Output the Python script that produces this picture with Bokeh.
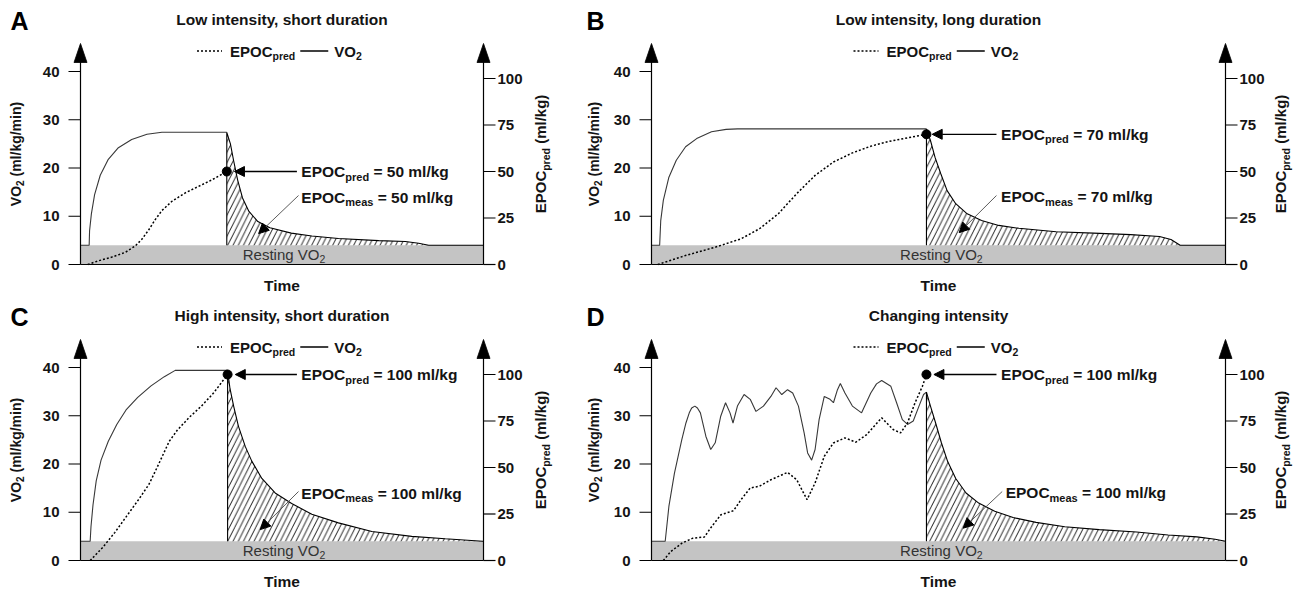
import math
from bokeh.plotting import figure
from bokeh.models import Range1d, Label, Arrow, NormalHead, BoxAnnotation
from bokeh.core.properties import value
from bokeh.layouts import row, column
from bokeh.embed import file_html
from bokeh.resources import INLINE

# ---------------------------------------------------------------- data
RESTING_VO2 = 4.0
T_START, T_END = 0, 100          # time axis domain (arbitrary units)
VO2_TICKS = [0, 10, 20, 30, 40]
EPOC_TICKS = [0, 25, 50, 75, 100]
LETTERS = ["A", "B", "C", "D"]
TITLES = ["Low intensity, short duration", "Low intensity, long duration",
          "High intensity, short duration", "Changing intensity"]
EPOC_PRED_VALUES = [50, 70, 100, 100]
EPOC_MEAS_VALUES = [50, 70, 100, 100]

# Panel A
a_vo2_t = [0, 2.15, 2.25, 2.7, 3.5, 4.9, 6.9, 9.4, 12.7, 16.5, 20.2, 36.3]
a_vo2_v = [4.0, 4.0, 7.0, 10.5, 14.5, 18.5, 21.8, 24.2, 25.9, 27.0, 27.4, 27.4]
a_dec_t = [36.3, 37.2, 38.0, 39.0, 40.2, 41.8, 44.0, 47.0, 52.3, 57.4, 64.0, 74.0, 80.6, 83.9, 86.4]
a_dec_v = [27.4, 25.0, 21.5, 17.5, 13.8, 11.0, 8.9, 7.6, 6.5, 5.9, 5.4, 4.95, 4.76, 4.4, 4.0]
a_epoc_t = [1.8, 4.5, 7.8, 11.1, 13.6, 15.2, 16.9, 18.5, 20.2, 22.7, 26.0, 29.3, 32.6, 36.3]
a_epoc_r = [0, 2, 4, 6.5, 10, 13.5, 18.5, 24, 29, 34, 38.5, 42, 45.5, 50]

# Panel B
b_vo2_t = [0, 1.42, 1.61, 2.06, 3.03, 4.32, 5.94, 7.87, 10.45, 13.0, 15.0, 47.9]
b_vo2_v = [4.0, 4.0, 9.1, 13.3, 18.1, 21.6, 24.4, 26.1, 27.5, 28.0, 28.1, 28.1]
b_dec_t = [47.9, 48.6, 49.4, 50.4, 51.5, 53.0, 55.0, 57.5, 60.5, 64.0, 70.5, 77.0, 83.5, 88.5, 90.5, 92.1]
b_dec_v = [28.1, 25.7, 22.2, 18.8, 15.3, 12.6, 10.5, 9.1, 8.1, 7.5, 6.8, 6.5, 6.2, 5.8, 5.2, 4.0]
b_epoc_t = [1.1, 5.9, 11.1, 15.6, 18.8, 22.1, 25.3, 28.5, 31.7, 35.0, 38.2, 41.4, 44.6, 47.9]
b_epoc_r = [0, 4.8, 9.3, 13.8, 19.2, 27.3, 38.1, 47.9, 55.1, 60.0, 63.6, 66.2, 68.1, 70]

# Panel C
c_vo2_t = [0, 2.4, 2.6, 3.1, 3.9, 5.1, 6.9, 9.0, 11.3, 14.2, 17.5, 20.8, 23.5, 36.5]
c_vo2_v = [4.0, 4.0, 7.0, 11.5, 16.5, 20.8, 24.7, 28.2, 31.2, 33.8, 36.2, 38.1, 39.4, 39.4]
c_dec_t = [36.5, 37.1, 38.0, 39.2, 40.9, 42.5, 45.0, 48.3, 52.4, 57.4, 64.0, 72.3, 82.2, 90.5, 99.8]
c_dec_v = [39.4, 35.6, 32.0, 27.8, 23.6, 20.6, 17.0, 14.0, 11.8, 9.6, 7.8, 6.0, 5.0, 4.5, 4.0]
c_epoc_t = [2.4, 5.5, 8.5, 11.5, 14.5, 17.0, 19.0, 20.5, 22.0, 24.0, 27.0, 30.0, 33.0, 36.5]
c_epoc_r = [0, 7, 15, 24, 33, 41, 50, 57, 64, 70, 77, 83, 90, 100]

# Panel D
d_vo2_t = [0, 2.39, 3.03, 4.0, 5.29, 6.0, 6.58, 7.0, 7.55, 8.0, 8.52, 9.48, 10.32, 11.1, 12.06,
           12.9, 13.68, 14.2, 14.97, 16.13, 17.2, 18.2, 19.5, 20.8, 21.7, 22.7, 23.7, 24.6,
           25.6, 26.6, 27.2, 27.9, 28.5, 29.2, 30.1, 31.1, 31.7, 32.4, 32.9, 33.7, 35.0,
           36.6, 38.2, 39.2, 40.1, 41.7, 42.7, 43.7, 44.6, 45.6, 46.6, 47.4, 47.9]
d_vo2_v = [4.0, 4.0, 11.2, 18.1, 25.1, 28.5, 30.6, 31.6, 32.0, 31.6, 30.6, 25.7, 23.0, 24.4, 29.9,
           32.7, 30.6, 28.5, 32.0, 34.4, 33.4, 30.9, 32.0, 34.0, 35.8, 34.4, 35.4, 34.7,
           32.0, 26.4, 22.3, 20.8, 23.0, 29.2, 34.0, 33.4, 32.7, 35.4, 36.7, 34.7, 32.0,
           30.6, 34.7, 36.6, 37.3, 36.1, 32.7, 29.2, 28.2, 28.9, 32.0, 34.4, 34.9]
d_dec_t = [47.9, 48.6, 49.5, 50.5, 51.6, 53.0, 54.8, 57.0, 59.8, 63.0, 67.0, 72.0, 78.0, 84.5, 90.0, 95.0, 98.2, 100]
d_dec_v = [34.9, 32.0, 28.5, 24.4, 20.5, 17.0, 14.0, 11.9, 10.2, 8.9, 7.9, 7.0, 6.4, 5.9, 5.3, 4.9, 4.4, 4.0]
d_epoc_t = [2.06, 3.35, 5.3, 7.2, 9.2, 10.5, 12.1, 14.3, 15.6, 17.2, 18.8, 20.8, 23.7, 25.3,
            27.1, 28.5, 30.1, 31.7, 33.7, 35.6, 37.5, 40.1, 42.1, 43.4, 44.6, 45.9, 47.2, 47.9]
d_epoc_r = [0, 4.8, 9.3, 12.0, 12.6, 18.3, 24.6, 26.8, 32.7, 39.0, 39.9, 43.4, 47.4, 43.4,
            32.7, 41.7, 56.0, 63.2, 65.9, 63.6, 67.7, 76.7, 70.4, 68.6, 74.0, 84.7, 93.7, 100]

# ---------------------------------------------------------------- layout / style
FONT = "'Liberation Sans', Arial, Helvetica, sans-serif"
TXT = "#141414"
FIG_H = 296
AXIS_BOTTOM_PX = 264   # pixel row of the zero line inside each panel
ARROW_TIP_PX = 43      # pixel row of the axis arrow tips
ARROW_LEN_PX = 19      # axis arrowhead length
ARROW_HALF_W_PX = 6.5  # axis arrowhead half width
PX_PER_V = 4.825       # pixels per VO2 unit
PX_PER_R = 1.86        # pixels per EPOC unit
TICK_LEN = 12

BOLD_W = {'E': 667, 'P': 667, 'O': 778, 'C': 722, 'V': 667, 'p': 611, 'r': 389, 'e': 556,
          'd': 611, 'm': 889, 'a': 556, 's': 556, ' ': 278, '=': 584, 'l': 278, '/': 278,
          'k': 556, 'g': 611, '(': 333, ')': 333, 'i': 278, 'n': 611}
REG_W = {'R': 722, 'e': 556, 's': 500, 't': 278, 'i': 222, 'n': 556, 'g': 556, ' ': 278,
         'V': 667, 'O': 778}


def tw(s, size, bold=True):
    table = BOLD_W if bold else REG_W
    return sum(table.get(c, 556) for c in s) * size / 1000.0


def text_run(p, x, y, start_px, pieces, y_range_name="default", vertical=False, base_px=0,
             bold=True, color=TXT):
    off = start_px
    for txt, size, dy in pieces:
        stripped = txt.lstrip(" ")
        off += tw(txt[:len(txt) - len(stripped)], size, bold)
        kw = dict(x=x, y=y, text=stripped, text_font=FONT, text_font_size=f"{size}px",
                  text_font_style="bold" if bold else "normal", text_color=color,
                  text_align="left", text_baseline="middle", y_range_name=y_range_name)
        if vertical:
            lab = Label(angle=math.pi / 2, x_offset=base_px - dy, y_offset=off, **kw)
        else:
            lab = Label(x_offset=off, y_offset=base_px + dy, **kw)
        p.add_layout(lab)
        off += tw(stripped, size, bold)
    return off


PANELS = [
    dict(data=(a_vo2_t, a_vo2_v, a_dec_t, a_dec_v, a_epoc_t, a_epoc_r), width=576,
         axis_left=80, plot_w=403, letter_dx=-61, llabel_dx=-65, rlabel_dx=57,
         pred_tip=38.2, pred_tail=53.7, pred_text=54.8, meas_text=54.8, meas_v=13.9,
         meas_from=(54.1, 14.3), meas_to=(44.2, 6.4)),
    dict(data=(b_vo2_t, b_vo2_v, b_dec_t, b_dec_v, b_epoc_t, b_epoc_r), width=720,
         axis_left=75, plot_w=574, letter_dx=-56, llabel_dx=-58, rlabel_dx=55,
         pred_tip=48.9, pred_tail=60.1, pred_text=60.9, meas_text=60.9, meas_v=14.0,
         meas_from=(60.1, 14.3), meas_to=(53.6, 6.6)),
    dict(data=(c_vo2_t, c_vo2_v, c_dec_t, c_dec_v, c_epoc_t, c_epoc_r), width=576,
         axis_left=80, plot_w=403, letter_dx=-61, llabel_dx=-65, rlabel_dx=57,
         pred_tip=38.4, pred_tail=53.7, pred_text=54.8, meas_text=54.8, meas_v=13.9,
         meas_from=(54.1, 14.3), meas_to=(44.6, 6.4)),
    dict(data=(d_vo2_t, d_vo2_v, d_dec_t, d_dec_v, d_epoc_t, d_epoc_r), width=720,
         axis_left=75, plot_w=574, letter_dx=-56, llabel_dx=-58, rlabel_dx=55,
         pred_tip=49.2, pred_tail=60.1, pred_text=60.9, meas_text=61.7, meas_v=14.0,
         meas_from=(61.1, 14.3), meas_to=(54.3, 6.7)),
]


def build(i, cfg):
    vo2_t, vo2_v, dec_t, dec_v, ep_t, ep_r = cfg["data"]
    W = cfg["width"]
    xpx = cfg["plot_w"] / float(T_END - T_START)
    x_lo = T_START - cfg["axis_left"] / xpx
    x_hi = T_START + (W - cfg["axis_left"]) / xpx
    below = FIG_H - AXIS_BOTTOM_PX
    p = figure(width=W, height=FIG_H, output_backend="svg", toolbar_location=None,
               x_range=Range1d(x_lo, x_hi),
               y_range=Range1d(-below / PX_PER_V, AXIS_BOTTOM_PX / PX_PER_V),
               x_axis_type=None, y_axis_type=None,
               min_border_left=0, min_border_right=0, min_border_top=0, min_border_bottom=0)
    p.extra_y_ranges = {"epoc": Range1d(-below / PX_PER_R, AXIS_BOTTOM_PX / PX_PER_R)}
    p.outline_line_color = None
    p.background_fill_color = "white"
    p.border_fill_color = "white"
    y_tip = (AXIS_BOTTOM_PX - ARROW_TIP_PX) / PX_PER_V
    y_base = y_tip - ARROW_LEN_PX / PX_PER_V
    xc = (T_START + T_END) / 2.0

    # resting band
    p.add_layout(BoxAnnotation(left=T_START, right=T_END, bottom=0, top=RESTING_VO2,
                               fill_color="#c4c4c4", fill_alpha=1.0, line_color=None,
                               level="underlay"))

    # hatched EPOC_meas area
    p.varea(x=dec_t, y1=[RESTING_VO2] * len(dec_t), y2=dec_v, fill_color=None,
            hatch_pattern="/", hatch_color="black", hatch_weight=0.9, hatch_scale=10.5)

    # VO2 curve
    p.line(vo2_t, vo2_v, line_color="#383838", line_width=1.1)
    p.line([dec_t[0]] + dec_t + [T_END], [RESTING_VO2] + dec_v + [RESTING_VO2],
           line_color="black", line_width=1.1)

    # EPOC predicted
    p.line(ep_t, ep_r, y_range_name="epoc", line_color="black", line_width=1.5,
           line_dash="2 2")
    p.scatter([ep_t[-1]], [ep_r[-1]], y_range_name="epoc", size=9, color="black")

    # ---- axes (lines, arrows, ticks, tick labels, titles)
    p.segment(x0=[T_START, T_END, T_START], y0=[0, 0, 0],
              x1=[T_START, T_END, T_END], y1=[y_base + 0.5, y_base + 0.5, 0],
              line_color="black", line_width=1.2)
    hw = ARROW_HALF_W_PX / xpx
    p.patches(xs=[[xa - hw, xa, xa + hw] for xa in (T_START, T_END)],
              ys=[[y_base, y_tip, y_base]] * 2, fill_color="black", line_color="black",
              line_width=0.8)
    n = len(VO2_TICKS)
    p.segment(x0=[T_START] * n, y0=VO2_TICKS, x1=[T_START - TICK_LEN / xpx] * n, y1=VO2_TICKS,
              line_color="black", line_width=1.2)
    p.text(x=[T_START] * n, y=VO2_TICKS, text=[str(v) for v in VO2_TICKS], x_offset=-21,
           text_align="right", text_baseline="middle", text_font=value(FONT),
           text_font_size="15px", text_font_style="bold", text_color=TXT)
    m = len(EPOC_TICKS)
    p.segment(x0=[T_END] * m, y0=EPOC_TICKS, x1=[T_END + TICK_LEN / xpx] * m, y1=EPOC_TICKS,
              y_range_name="epoc", line_color="black", line_width=1.2)
    p.text(x=[T_END] * m, y=EPOC_TICKS, text=[str(v) for v in EPOC_TICKS], x_offset=14,
           y_range_name="epoc", text_align="left", text_baseline="middle",
           text_font=value(FONT), text_font_size="15px", text_font_style="bold",
           text_color=TXT)

    # x axis title
    p.add_layout(Label(x=xc, y=0, y_offset=-21, text="Time", text_font=FONT,
                       text_font_size="15.5px", text_font_style="bold", text_color=TXT,
                       text_align="center", text_baseline="middle"))
    # left axis title (VO2 with subscript, rotated)
    lp = [("VO", 14, 0), ("2", 10, -4), (" (ml/kg/min)", 14, 0)]
    L = sum(tw(t, s) for t, s, _ in lp)
    text_run(p, T_START, y_tip / 2, -L / 2, lp, vertical=True, base_px=cfg["llabel_dx"])
    # right axis title (EPOC_pred, rotated)
    rp = [("EPOC", 15, 0), ("pred", 10.5, -5), (" (ml/kg)", 15, 0)]
    L = sum(tw(t, s) for t, s, _ in rp)
    text_run(p, T_END, y_tip / 2, -L / 2, rp, vertical=True, base_px=cfg["rlabel_dx"])

    # ---- annotations
    pred = EPOC_PRED_VALUES[i]
    meas = EPOC_MEAS_VALUES[i]
    p.add_layout(Arrow(end=NormalHead(size=10, fill_color="black", line_color="black",
                                      line_width=1),
                       x_start=cfg["pred_tail"], y_start=pred, x_end=cfg["pred_tip"], y_end=pred,
                       y_range_name="epoc", line_color="black", line_width=1.3))
    text_run(p, cfg["pred_text"], pred, 0,
             [("EPOC", 15.5, 0), ("pred", 11, -5), (f" = {pred} ml/kg", 15.5, 0)],
             y_range_name="epoc")
    mf, mt = cfg["meas_from"], cfg["meas_to"]
    p.add_layout(Arrow(end=NormalHead(size=10, fill_color="black", line_color="black",
                                      line_width=1),
                       x_start=mf[0], y_start=mf[1], x_end=mt[0], y_end=mt[1],
                       line_color="#4a4a4a", line_width=0.9))
    text_run(p, cfg["meas_text"], cfg["meas_v"], 0,
             [("EPOC", 15.5, 0), ("meas", 11, -5), (f" = {meas} ml/kg", 15.5, 0)])

    # resting label
    rs = [("Resting VO", 15, 0), ("2", 10.5, -4)]
    L = sum(tw(t, s, bold=False) for t, s, _ in rs)
    text_run(p, xc + 0.5, RESTING_VO2 / 2, -L / 2, rs, bold=False, color="#333333")

    # legend
    leg_y = y_tip - 7.5 / PX_PER_V
    p.segment(x0=[xc - 85 / xpx], y0=[leg_y], x1=[xc - 60 / xpx], y1=[leg_y],
              line_color="black", line_width=1.5, line_dash="2 2")
    end = text_run(p, xc, leg_y, -52, [("EPOC", 15, 0), ("pred", 10.5, -5)])
    p.segment(x0=[xc + (end + 5) / xpx], y0=[leg_y], x1=[xc + (end + 33) / xpx], y1=[leg_y],
              line_color="black", line_width=1.3)
    text_run(p, xc, leg_y, end + 39, [("VO", 15, 0), ("2", 10.5, -5)])

    # title & panel letter
    p.add_layout(Label(x=xc, y=y_tip, y_offset=24, text=TITLES[i], text_font=FONT,
                       text_font_size="15.5px", text_font_style="bold", text_color=TXT,
                       text_align="center", text_baseline="middle"))
    p.add_layout(Label(x=T_START, y=y_tip, x_offset=cfg["letter_dx"], y_offset=23,
                       text=LETTERS[i], text_font=FONT, text_font_size="25px",
                       text_font_style="bold", text_color="black", text_align="center",
                       text_baseline="middle"))
    return p


figs = [build(i, cfg) for i, cfg in enumerate(PANELS)]
layout = column(row(figs[0], figs[1]), row(figs[2], figs[3]))
open("out.html", "w").write(file_html(layout, INLINE, title="EPOC"))
